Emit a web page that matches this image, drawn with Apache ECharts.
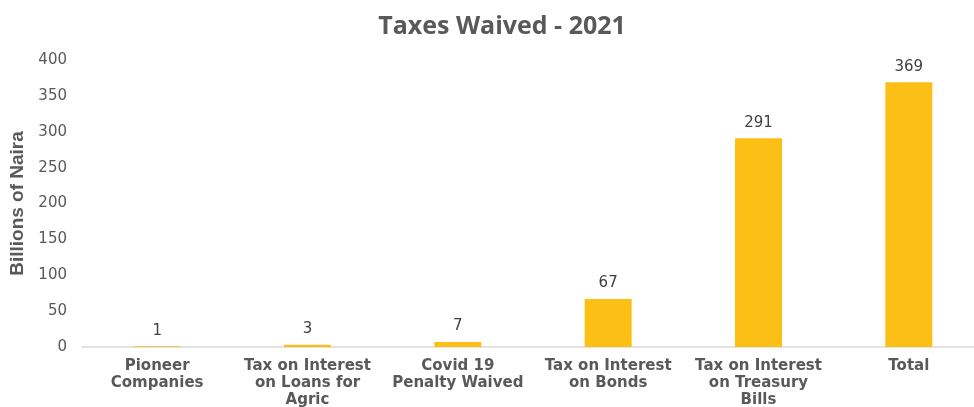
<!DOCTYPE html>
<html>
<head>
<meta charset="utf-8">
<script src="https://cdn.jsdelivr.net/npm/echarts@6/dist/echarts.min.js"></script>
<style>
  html, body { margin: 0; padding: 0; background: #fff; }
  #chart { width: 974px; height: 407px; }
</style>
</head>
<body>
<div id="chart"></div>
<script>
// data
const categories = [
  "Pioneer\nCompanies",
  "Tax on Interest\non Loans for\nAgric",
  "Covid 19\nPenalty Waived",
  "Tax on Interest\non Bonds",
  "Tax on Interest\non Treasury\nBills",
  "Total"
];
const values = [1, 3, 7, 67, 291, 369];
const yTicks = [0, 50, 100, 150, 200, 250, 300, 350, 400];

const grey = "#595959";
const sans = "DejaVu Sans, sans-serif";

let chart = echarts.init(document.getElementById("chart"));
chart.setOption({
  animation: false,
  title: {
    text: "Taxes Waived - 2021",
    left: 497,
    textAlign: "center",
    top: 9,
    textStyle: {
      fontFamily: "Open Sans, Liberation Sans, sans-serif",
      fontSize: 25,
      fontWeight: "bold",
      color: grey
    }
  },
  grid: { left: 82, top: 60, width: 902, height: 287, outerBoundsMode: "none" },
  xAxis: {
    type: "category",
    data: categories,
    axisLine: { lineStyle: { color: "#d9d9d9", width: 1.5 } },
    axisTick: { show: false },
    axisLabel: {
      interval: 0,
      margin: 11,
      fontFamily: sans,
      fontSize: 15,
      fontWeight: "bold",
      color: grey,
      lineHeight: 17
    }
  },
  yAxis: {
    type: "value",
    min: yTicks[0],
    max: yTicks[yTicks.length - 1],
    interval: 50,
    name: "Billions of Naira",
    nameLocation: "middle",
    nameGap: 54,
    nameTextStyle: {
      fontFamily: "Liberation Sans, Arial, sans-serif",
      fontSize: 19,
      fontWeight: "bold",
      color: grey
    },
    splitLine: { show: false },
    axisLine: { show: false },
    axisTick: { show: false },
    axisLabel: {
      margin: 15,
      fontFamily: sans,
      fontSize: 15,
      color: grey
    }
  },
  series: [{
    type: "bar",
    data: values,
    barWidth: 47,
    itemStyle: { color: "#FCBF16" },
    label: {
      show: true,
      position: "top",
      distance: 8,
      fontFamily: sans,
      fontSize: 15,
      color: "#404040"
    }
  }]
});
</script>
</body>
</html>
